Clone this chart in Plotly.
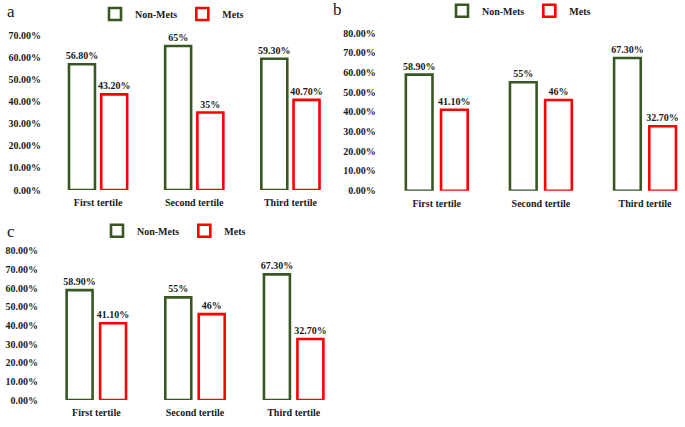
import plotly.graph_objects as go

categories = ["First tertile", "Second tertile", "Third tertile"]

a_non_mets = [56.8, 65.0, 59.3]
a_mets = [43.2, 35.0, 40.7]
a_non_mets_text = ["56.80%", "65%", "59.30%"]
a_mets_text = ["43.20%", "35%", "40.70%"]

b_non_mets = [58.9, 55.0, 67.3]
b_mets = [41.1, 46.0, 32.7]
b_non_mets_text = ["58.90%", "55%", "67.30%"]
b_mets_text = ["41.10%", "46%", "32.70%"]

c_non_mets = [58.9, 55.0, 67.3]
c_mets = [41.1, 46.0, 32.7]
c_non_mets_text = ["58.90%", "55%", "67.30%"]
c_mets_text = ["41.10%", "46%", "32.70%"]

a_ticks = [0, 10, 20, 30, 40, 50, 60, 70]
bc_ticks = [0, 10, 20, 30, 40, 50, 60, 70, 80]
a_tick_text = ["0.00%", "10.00%", "20.00%", "30.00%", "40.00%", "50.00%", "60.00%", "70.00%"]
bc_tick_text = ["0.00%", "10.00%", "20.00%", "30.00%", "40.00%", "50.00%", "60.00%", "70.00%", "80.00%"]

GREEN = "#385723"
RED = "#FF0000"
FONT = "Liberation Serif"
TXT = "#1a1a1a"
W, H = 685, 427

fig = go.Figure()

panels = [
    # name, xaxis, yaxis, legend, non, mets, non_txt, mets_txt, bar width, gap
    ("a", "x", "y", "legend", a_non_mets, a_mets, a_non_mets_text, a_mets_text, 0.27, 0.065),
    ("b", "x2", "y2", "legend2", b_non_mets, b_mets, b_non_mets_text, b_mets_text, 0.256, 0.082),
    ("c", "x3", "y3", "legend3", c_non_mets, c_mets, c_non_mets_text, c_mets_text, 0.263, 0.076),
]

for name, xa, ya, lg, non, mets, non_t, mets_t, w, g in panels:
    fig.add_trace(go.Bar(
        x=categories, y=non, name="Non-Mets", xaxis=xa, yaxis=ya, legend=lg,
        width=w, offset=-(w + g / 2),
        marker=dict(color="white", line=dict(color=GREEN, width=2.6)),
        text=non_t, textposition="outside", cliponaxis=False, constraintext="none",
        textfont=dict(family=FONT, size=10, color=TXT, weight="bold"),
        hoverinfo="skip",
    ))
    fig.add_trace(go.Bar(
        x=categories, y=mets, name="Mets", xaxis=xa, yaxis=ya, legend=lg,
        width=w, offset=g / 2,
        marker=dict(color="white", line=dict(color=RED, width=2.6)),
        text=mets_t, textposition="outside", cliponaxis=False, constraintext="none",
        textfont=dict(family=FONT, size=10, color=TXT, weight="bold"),
        hoverinfo="skip",
    ))

tickfont = dict(family=FONT, size=10, color=TXT, weight="bold")

def px_dom_x(l, r):
    return [l / W, min(r / W, 1.0)]

def px_dom_y(bottom, top):
    return [1 - bottom / H, 1 - top / H]

common_x = dict(showgrid=False, showline=False, zeroline=False, ticks="",
                tickfont=tickfont, ticklabelstandoff=5, fixedrange=True, automargin=False)
common_y = dict(showgrid=False, showline=False, zeroline=False, ticks="",
                tickfont=tickfont, ticklabelstandoff=8, fixedrange=True, automargin=False)

fig.update_layout(
    width=W, height=H,
    margin=dict(l=0, r=0, t=0, b=0, autoexpand=False),
    paper_bgcolor="white", plot_bgcolor="white",
    barmode="group",
    xaxis=dict(domain=px_dom_x(50, 338.5), anchor="y", range=[-0.5, 2.5], **common_x),
    yaxis=dict(domain=px_dom_y(190, 35), anchor="x", range=[0, 70],
               tickvals=a_ticks, ticktext=a_tick_text, **common_y),
    xaxis2=dict(domain=px_dom_x(384.7, 685), anchor="y2", range=[-0.5, 2.384], **common_x),
    yaxis2=dict(domain=px_dom_y(190.7, 33), anchor="x2", range=[0, 80],
                tickvals=bc_ticks, ticktext=bc_tick_text, **common_y),
    xaxis3=dict(domain=px_dom_x(47, 343), anchor="y3", range=[-0.5, 2.5], **common_x),
    yaxis3=dict(domain=px_dom_y(400, 250.7), anchor="x3", range=[0, 80],
                tickvals=bc_ticks, ticktext=bc_tick_text, **common_y),
    showlegend=True,
)

legend_style = dict(orientation="h", xanchor="center", yanchor="middle",
                    font=dict(family=FONT, size=10, color=TXT, weight="bold"),
                    bgcolor="rgba(0,0,0,0)", itemwidth=30, tracegroupgap=0)
fig.update_layout(
    legend=dict(x=172 / W, y=1 - 14 / H, **legend_style),
    legend2=dict(x=519 / W, y=1 - 10.7 / H, **legend_style),
    legend3=dict(x=174 / W, y=1 - 230.7 / H, **legend_style),
)

letters = [("a", 11, 11), ("b", 337.5, 9), ("c", 11, 231)]
for t, x, y in letters:
    fig.add_annotation(text=t, xref="paper", yref="paper", x=x / W, y=1 - y / H,
                       xanchor="center", yanchor="middle", showarrow=False,
                       font=dict(family=FONT, size=17, color=TXT))

fig.write_html("out.html", config={"displayModeBar": False},
               post_script="document.body.style.margin='0';")
